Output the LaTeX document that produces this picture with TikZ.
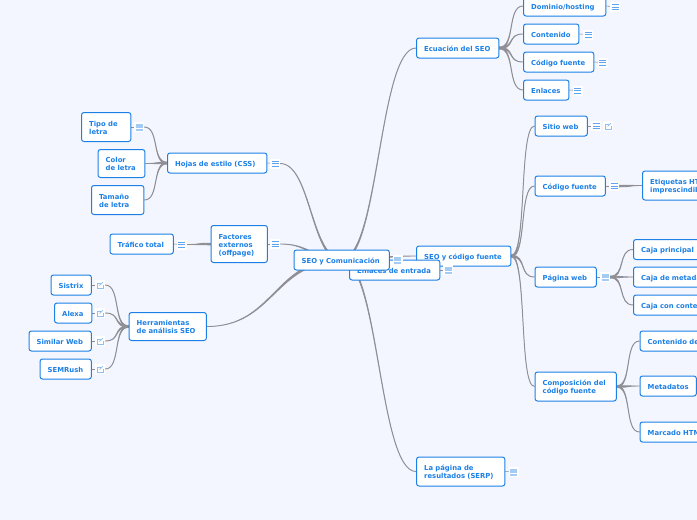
\documentclass[tikz,border=0pt]{standalone}
\usepackage{fontspec}
\setmainfont{DejaVu Sans}
\usetikzlibrary{calc,backgrounds}
\definecolor{pageblue}{HTML}{F3F6FF}
\definecolor{topicblue}{HTML}{1C80E6}
\definecolor{iconblue}{HTML}{5FA4EC}
\definecolor{iconlight}{HTML}{A4CBF4}
\definecolor{twiggray}{HTML}{8F8F95}
\tikzset{
  topic/.style={draw=topicblue,fill=white,text=topicblue,rounded corners=2.5pt,line width=1pt,anchor=west,align=left,inner xsep=7.7pt,inner ysep=0pt,minimum height=20,font=\fontsize{6.85}{8.3}\bfseries\selectfont,execute at begin node={\rule{0pt}{8.6pt}},execute at end node={\rule[-2pt]{0pt}{2pt}}},
  noteicon/.style={fill=white,inner sep=0pt,minimum size=10,path picture={\foreach \k in {-2.5,0,2.5}{\draw[iconblue,line width=.7] ([shift={(-3.5,\k)}]path picture bounding box.center) -- ++(7,0);}}},
  notefull/.style={fill=white,inner sep=0pt,minimum size=10,path picture={\foreach \k in {-2.5,0,2.5}{\draw[iconlight,line width=2] ([shift={(-3.5,\k)}]path picture bounding box.center) -- ++(7,0);}}},
  linkicon/.style={fill=white,inner sep=0pt,minimum size=10,path picture={\draw[iconblue!70,line width=.7] ([shift={(1,-2)}]path picture bounding box.center) -- ++(-4,0) -- ++(0,5.5) -- ++(6,0) -- ++(0,-3.5); \draw[iconblue!70,line width=.7] ([shift={(-.5,.5)}]path picture bounding box.center) -- ++(3.5,-3.5);}}
}
\newcommand{\twigbend}{.5}
\newcommand{\twig}[3][.8pt]{\filldraw[twiggray,line width=.9pt] let \p1=(#2),\p2=(#3),\n1={\x1+\twigbend*(\x2-\x1)},\n2={\x2-\twigbend*(\x2-\x1)} in (\x1,\y1+#1) .. controls (\n1,\y1+#1) and (\n2,\y2) .. (\x2,\y2) .. controls (\n2,\y2) and (\n1,\y1-#1) .. (\x1,\y1-#1) -- cycle;}
\begin{document}
\begin{tikzpicture}[x=1pt,y=-1pt]
\clip (0,0) rectangle (697,520);
\begin{scope}[on background layer]
\fill[pageblue] (0,0) rectangle (697,520);
\end{scope}
% right side, top
\node[topic,text width=67] (ecuacion) at (416,48) {Ecuación del SEO};
\node[topic,text width=67] (dominio) at (523,6) {Dominio/hosting};
\node[topic,text width=40] (contenido) at (523,34) {Contenido};
\node[topic,text width=55] (codigoa) at (523,62) {Código fuente};
\node[topic,text width=30] (enlaces) at (523,90) {Enlaces};
% right side, middle
\node[topic,text width=79] (fuente) at (416,256) {SEO y código fuente};
\node[topic,text width=37] (sitio) at (534.5,126) {Sitio web};
\node[topic,text width=55] (codigob) at (534.5,186) {Código fuente};
\node[topic,text width=100,minimum height=29] (etiquetas) at (642,185.5) {Etiquetas HTML\\imprescindibles};
\node[topic,text width=46] (pagina) at (534.5,277) {Página web};
\node[topic,text width=100] (principal) at (633,249.5) {Caja principal};
\node[topic,text width=100] (metacaja) at (633,277) {Caja de metadatos};
\node[topic,text width=100] (concaja) at (633,305) {Caja con contenido};
\node[topic,text width=66,minimum height=29] (composicion) at (534.5,386.5) {Composición del\\código fuente};
\node[topic,text width=100] (contdet) at (639.5,341) {Contenido de texto};
\node[topic,text width=41] (metadatos) at (639.5,386) {Metadatos};
\node[topic,text width=100] (marcado) at (639.5,432) {Marcado HTML};
\node[topic,text width=73,minimum height=29] (serp) at (416,471.5) {La página de\\resultados (SERP)};
\node[topic,text width=75] (entrada) at (349,270) {Enlaces de entrada};
% left side
\node[topic,text width=84] (hojas) at (167,163) {Hojas de estilo (CSS)};
\node[topic,text width=34,minimum height=29] (tipo) at (81,127) {Tipo de\\letra};
\node[topic,text width=31.5,minimum height=28] (color) at (97.5,163.5) {Color\\de letra};
\node[topic,text width=37,minimum height=29] (tamano) at (91,200) {Tamaño\\de letra};
\node[topic,text width=41,minimum height=37] (factores) at (210.5,244) {Factores\\externos\\(offpage)};
\node[topic,text width=48] (trafico) at (109.5,244) {Tráfico total};
\node[topic,text width=62,minimum height=28] (herramientas) at (128.5,326.5) {Herramientas\\de análisis SEO};
\node[topic,text width=25] (sistrix) at (50.5,285) {Sistrix};
\node[topic,text width=22] (alexa) at (54,313) {Alexa};
\node[topic,text width=47] (similar) at (28.5,341) {Similar Web};
\node[topic,text width=36] (semrush) at (39.5,369) {SEMRush};
\node[topic,text width=80] (root) at (293.5,260) {SEO y Comunicación};
% icons
\foreach \n/\p in {dominio/{615,7},contenido/{588,34.5},codigoa/{602.5,62.5},enlaces/{577.5,90.5},sitio/{596,126},codigob/{614,186},hojas/{275,163.5},factores/{275,244},trafico/{181.5,244.5}}{\node[noteicon] (\n-i) at (\p) {};}
\foreach \n/\p in {tipo/{139,127},pagina/{605,277},entrada/{448,270},root/{397.5,260},serp/{513.5,472}}{\node[notefull] (\n-i) at (\p) {};}
\foreach \n/\p in {sitio/{608,126},sistrix/{100,285},alexa/{100,313},similar/{100,341},semrush/{100,369}}{\node[linkicon] (\n-l) at (\p) {};}
\begin{scope}[on background layer]
\foreach \a in {dominio,contenido,codigoa,enlaces,sitio,codigob,hojas,factores,trafico,tipo,pagina,entrada,root,serp}{\draw[twiggray,line width=.6pt] (\a.east) -- (\a-i.center);}
\foreach \a in {sistrix,alexa,similar,semrush}{\draw[twiggray,line width=.6pt] (\a.east) -- (\a-l.center);}
\twig[1.3pt]{root.center}{ecuacion.west}
\twig[1.3pt]{root.center}{fuente.west}
\twig[1.3pt]{root.center}{entrada.west}
\twig[1.3pt]{root.center}{serp.west}
\twig[1.3pt]{root.center}{hojas-i.east}
\twig[1.3pt]{root.center}{factores-i.east}
\twig[1.3pt]{root.center}{herramientas.east}
\renewcommand{\twigbend}{.68}
\foreach \a in {dominio,contenido,codigoa,enlaces}{\twig{ecuacion.east}{\a.west}}
\foreach \a in {sitio,codigob,pagina,composicion}{\twig{fuente.east}{\a.west}}
\twig{codigob-i.east}{etiquetas.west}
\foreach \a in {principal,metacaja,concaja}{\twig{pagina-i.east}{\a.west}}
\foreach \a in {contdet,metadatos,marcado}{\twig{composicion.east}{\a.west}}
\twig{hojas.west}{tipo-i.east}
\twig{hojas.west}{color.east}
\twig{hojas.west}{tamano.east}
\twig{factores.west}{trafico-i.east}
\foreach \a in {sistrix,alexa,similar,semrush}{\twig{herramientas.west}{\a-l.east}}
\end{scope}
\end{tikzpicture}
\end{document}
